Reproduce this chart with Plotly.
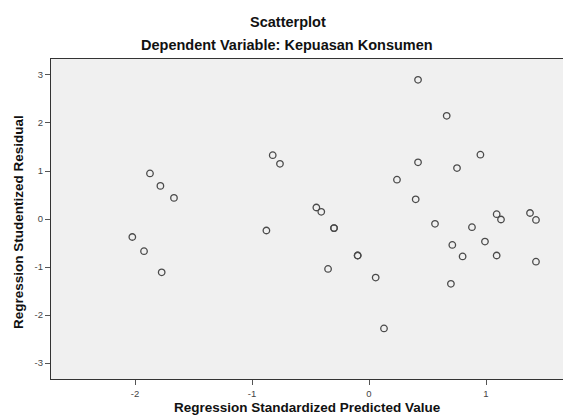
import plotly.graph_objects as go

pred = [-2.023, -1.923, -1.872, -1.783, -1.772, -1.667,
        -0.877, -0.823, -0.761, -0.450, -0.408, -0.350,
        -0.299, -0.299, -0.097, -0.097, 0.057, 0.128,
        0.239, 0.399, 0.419, 0.419, 0.564, 0.664,
        0.700, 0.712, 0.752, 0.800, 0.880, 0.952,
        0.991, 1.091, 1.091, 1.128, 1.376, 1.427, 1.427]
resid = [-0.375, -0.67, 0.95, 0.69, -1.11, 0.44,
         -0.24, 1.33, 1.15, 0.24, 0.15, -1.04,
         -0.19, -0.19, -0.76, -0.76, -1.22, -2.28,
         0.82, 0.41, 1.18, 2.90, -0.10, 2.15,
         -1.35, -0.54, 1.06, -0.78, -0.17, 1.34,
         -0.47, 0.10, -0.76, -0.01, 0.125, -0.02, -0.89]

xticks = [-2, -1, 0, 1]
yticks = [-3, -2, -1, 0, 1, 2, 3]

fig = go.Figure(go.Scatter(
    x=pred, y=resid, mode="markers",
    marker=dict(symbol="circle-open", size=6.5, color="#4a4a4a",
                line=dict(width=1.3, color="#4a4a4a")),
    showlegend=False, hoverinfo="x+y"))

font = "Liberation Sans, Arial, sans-serif"
fig.update_layout(
    width=563, height=415, autosize=False,
    margin=dict(l=51, r=0, t=59, b=36),
    paper_bgcolor="white", plot_bgcolor="#f0f0f0",
    font=dict(family=font, color="#222"),
    xaxis=dict(range=[-2.718, 1.658], tickvals=xticks, ticktext=[str(v) for v in xticks],
               showgrid=False, zeroline=False, showline=True, linecolor="#333",
               linewidth=1.3, mirror=True, ticks="outside", ticklen=5, tickcolor="#555",
               tickfont=dict(size=9.5, color="#444")),
    yaxis=dict(range=[-3.333, 3.333], tickvals=yticks, ticktext=[str(v) for v in yticks],
               showgrid=False, zeroline=False, showline=True, linecolor="#333",
               linewidth=1.3, mirror=False, ticks="outside", ticklen=5, tickcolor="#555",
               tickfont=dict(size=9.5, color="#444")),
    annotations=[
        dict(text="<b>Scatterplot</b>", xref="paper", yref="paper", x=0.462, y=(379 - 22) / 320,
             showarrow=False, xanchor="center", yanchor="middle",
             font=dict(size=14.5, color="#111", family=font)),
        dict(text="<b>Dependent Variable: Kepuasan Konsumen</b>", xref="paper", yref="paper",
             x=0.461, y=(379 - 45) / 320, showarrow=False, xanchor="center", yanchor="middle",
             font=dict(size=14.5, color="#111", family=font)),
        dict(text="<b>Regression Standardized Predicted Value</b>", xref="paper", yref="paper",
             x=0.5, y=(379 - 407) / 320, showarrow=False, xanchor="center", yanchor="middle",
             font=dict(size=13.5, color="#111", family=font)),
        dict(text="<b>Regression Studentized Residual</b>", xref="paper", yref="paper",
             x=(18 - 51) / 512, y=(379 - 222) / 320, showarrow=False, xanchor="center",
             yanchor="middle", textangle=-90, font=dict(size=13.5, color="#111", family=font)),
    ],
)

fig.write_html("out.html", config={"displayModeBar": False},
               post_script="document.body.style.margin='0';document.body.style.overflow='hidden';")
